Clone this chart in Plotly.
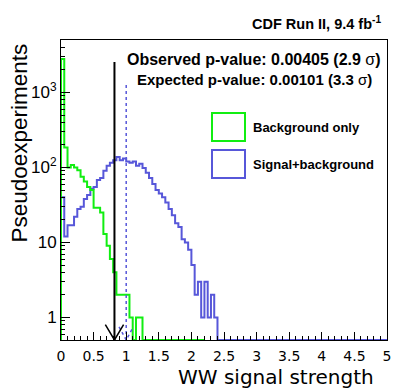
import numpy as np
import plotly.graph_objects as go

# histogram binning (WW signal strength), 0.05 wide bins
bin_width = 0.05

# background-only pseudoexperiments per bin, starting at 0
bkg_only = [2800, 185, 100, 108, 100, 92, 75, 65, 55, 50,
            29, 29, 25, 13, 9, 6, 4, 2, 2, 2,
            2, 1, 0, 1, 1, 0, 0, 0, 0, 0,
            0, 0, 0, 0, 0, 0, 0, 0, 0, 0,
            0, 0, 0, 0]

# signal+background pseudoexperiments per bin, starting at 0
sig_bkg = [40, 12, 17, 17, 22, 28, 30, 38, 43, 52,
           55, 68, 72, 90, 105, 115, 125, 138, 125, 132,
           120, 115, 120, 105, 112, 98, 85, 72, 60, 50,
           45, 40, 34, 28, 23, 18, 16, 11, 10, 8,
           5, 2, 3, 1, 3, 1, 2, 1, 0, 0,
           0, 0, 0, 0, 0, 0, 0, 0, 0, 0,
           0, 0, 0, 0, 0, 0, 0, 0, 0, 0,
           0, 0, 0, 0, 0, 0, 0, 0, 0, 0,
           0, 0, 0, 0, 0, 0, 0, 0, 0, 0,
           0, 0, 0, 0, 0, 0, 0, 0, 0, 0]

observed_mu = 0.82
expected_mu = 1.0
observed_top = 2550
expected_top = 1260

y_range = [np.log10(0.5), np.log10(5000)]
floor = 10 ** y_range[0]

GREEN = "#11ee11"
BLUE = "#5757d9"

# the page body adds an 8px offset, margins below are set with that in mind
PAGE_OFFSET = 8


def step_xy(counts):
    counts = np.asarray(counts, dtype=float)
    edges = np.arange(len(counts) + 1) * bin_width
    y = np.where(counts > 0, counts, floor)
    xs = np.concatenate([[0.0], edges])
    ys = np.concatenate([[floor], y, [y[-1]]])
    return xs, ys


fig = go.Figure()

bx, by = step_xy(sig_bkg)
fig.add_trace(go.Scatter(x=bx, y=by, mode="lines", line=dict(color=BLUE, width=2, shape="hv"),
                         showlegend=False))
gx, gy = step_xy(bkg_only)
fig.add_trace(go.Scatter(x=gx, y=gy, mode="lines", line=dict(color=GREEN, width=2, shape="hv"),
                         showlegend=False))

# expected (dotted) and observed (solid) markers with arrow heads
fig.add_trace(go.Scatter(x=[expected_mu, expected_mu], y=[expected_top, floor], mode="lines",
                         line=dict(color=BLUE, width=1.5, dash="dot"), showlegend=False))
fig.add_trace(go.Scatter(x=[expected_mu - 0.11, expected_mu, expected_mu + 0.11], y=[0.75, floor, 0.75],
                         mode="lines", line=dict(color=BLUE, width=1.5, dash="dot"), showlegend=False))
fig.add_trace(go.Scatter(x=[observed_mu, observed_mu], y=[observed_top, floor], mode="lines",
                         line=dict(color="black", width=2), showlegend=False))
fig.add_trace(go.Scatter(x=[observed_mu - 0.14, observed_mu, observed_mu + 0.14], y=[0.8, floor, 0.8],
                         mode="lines", line=dict(color="black", width=1.5), showlegend=False))

fig.update_xaxes(
    range=[0, 5], showline=True, linecolor="black", linewidth=1, mirror=True,
    ticks="inside", ticklen=8, tickcolor="black", dtick=0.5, tick0=0,
    minor=dict(ticks="inside", ticklen=4, dtick=0.1, tickcolor="black"),
    showgrid=False, zeroline=False, ticklabelstandoff=3,
    tickfont=dict(family="DejaVu Sans", size=14, color="black"),
)
minor_y = [m * 10 ** e for e in range(-1, 4) for m in range(2, 10)]
fig.update_yaxes(
    type="log", range=y_range, showline=True, linecolor="black", linewidth=1, mirror=True,
    ticks="inside", ticklen=9, tickcolor="black",
    tickvals=[1, 10, 100, 1000], ticktext=["1", "10", "10<sup>2</sup>", "10<sup>3</sup>"],
    minor=dict(ticks="inside", ticklen=4, tickvals=minor_y, tickcolor="black"),
    showgrid=False, zeroline=False,
    tickfont=dict(family="Liberation Sans", size=17, color="black"),
)


def px_x(px):
    return (px - 61) / 326


def px_y(py):
    return (340 - py) / 300


bold = dict(family="Liberation Sans", color="black")
annotations = [
    dict(text="<b>CDF Run II, 9.4 fb<sup>-1</sup></b>", x=px_x(383), y=px_y(23), xanchor="right",
         font=dict(size=14.5, **bold)),
    dict(text="<b>Observed p-value: 0.00405 (2.9 </b>σ<b>)</b>", x=px_x(383), y=px_y(59),
         xanchor="right", font=dict(size=16, **bold)),
    dict(text="<b>Expected p-value: 0.00101 (3.3 </b>σ<b>)</b>", x=px_x(374), y=px_y(79),
         xanchor="right", font=dict(size=15, **bold)),
    dict(text="<b>Background only</b>", x=px_x(251), y=px_y(127), xanchor="left",
         font=dict(size=13, **bold)),
    dict(text="<b>Signal+background</b>", x=px_x(251), y=px_y(164), xanchor="left",
         font=dict(size=13, **bold)),
    dict(text="WW signal strength", x=px_x(376), y=px_y(377), xanchor="right",
         font=dict(family="DejaVu Sans", size=20, color="black")),
    dict(text="Pseudoexperiments", x=px_x(19), y=px_y(42), xanchor="center", yanchor="top",
         textangle=-90, font=dict(family="Liberation Sans", size=22.5, color="black")),
]
for a in annotations:
    a.update(xref="paper", yref="paper", showarrow=False, yanchor=a.get("yanchor", "middle"))

shapes = [
    dict(type="rect", xref="paper", yref="paper", x0=px_x(212), x1=px_x(245), y0=px_y(141), y1=px_y(113),
         line=dict(color=GREEN, width=2), fillcolor="white"),
    dict(type="rect", xref="paper", yref="paper", x0=px_x(212), x1=px_x(245), y0=px_y(178), y1=px_y(150),
         line=dict(color=BLUE, width=2), fillcolor="white"),
]

fig.update_layout(
    width=407, height=392,
    margin=dict(l=61 - PAGE_OFFSET, r=407 - 387 + PAGE_OFFSET, t=40 - PAGE_OFFSET, b=392 - 340 + PAGE_OFFSET),
    paper_bgcolor="white", plot_bgcolor="white",
    annotations=annotations, shapes=shapes,
    showlegend=False,
)

fig.write_html("out.html")
